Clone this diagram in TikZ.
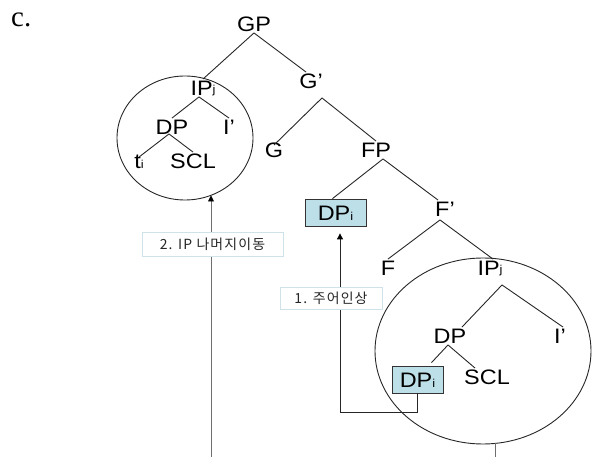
\documentclass[tikz,border=0pt]{standalone}
\usepackage{fontspec}
\setmainfont[FakeStretch=1.12]{Liberation Sans}
\newfontfamily\krfont[LetterSpace=8]{Noto Sans CJK KR}
\newfontfamily\seriffont{Liberation Serif}
\usetikzlibrary{arrows.meta}
\definecolor{boxblue}{HTML}{BCDFE8}
\definecolor{lblborder}{HTML}{CFE2EA}
\definecolor{arrgray}{HTML}{6E6E6E}
\newcommand\subx[2][0bp]{\raisebox{#1}{\fontsize{11.5}{12}\selectfont #2}}
\tikzset{
  lab/.style={inner sep=1bp, text height=15.5bp, text depth=0bp, font=\fontsize{21}{24}\selectfont},
  tline/.style={draw=black!85, line width=0.9bp},
  dpbox/.style={lab, draw=black!80, fill=boxblue, minimum height=27bp, line width=0.8bp},
  lbl/.style={draw=lblborder, fill=white, text=black!85, font=\krfont\fontsize{14}{15}\selectfont, line width=0.8bp, inner sep=0pt},
  mv/.style={line width=0.9bp, -{Triangle[length=6bp,width=6bp,color=black]}},
  circ/.style={draw=black!85, line width=0.9bp},
}
\begin{document}
\begin{tikzpicture}[x=1bp,y=-1bp]
\useasboundingbox (0,0) rectangle (592,457);
% label c.
\node[font=\seriffont\fontsize{29}{32}\selectfont, anchor=base west, inner sep=0pt] (c) at (11,27) {c.};
% tree nodes
\node[lab] (GP) at (254,24) {GP};
\node[lab] (IPL) at (203,88) {IP\subx[2bp]{j}};
\node[lab] (Gb) at (311,81) {G’};
\node[lab] (DPL) at (172,127) {DP};
\node[lab] (IbL) at (229,127) {I’};
\node[lab] (ti) at (139,161) {t\subx{i}};
\node[lab] (SCLL) at (193,161) {SCL};
\node[lab] (G) at (274,150) {G};
\node[lab] (FP) at (376,150) {FP};
\node[dpbox, minimum width=61bp] (box1) at (335.5,212.5) {DP\subx{i}};
\node[lab] (Fb) at (445,209) {F’};
\node[lab] (F) at (388,268) {F};
\node[lab] (IPR) at (490,268) {IP\subx[2bp]{j}};
\node[lab] (DPR) at (450,336) {DP};
\node[lab] (IbR) at (560,336) {I’};
\node[dpbox, minimum width=51bp, inner sep=0pt] (box2) at (417.5,379.5) {DP\subx{i}};
\node[lab] (SCLR) at (487,377) {SCL};
% tree lines
\draw[tline] (GP.south) -- (IPL.north);
\draw[tline] (GP.south) -- ([xshift=-5bp]Gb.north);
\draw[tline] ([xshift=-4bp]IPL.south) -- (DPL.north);
\draw[tline] ([xshift=-4bp]IPL.south) -- (IbL.north);
\draw[tline] ([xshift=-3bp,yshift=2bp]DPL.south) -- ([yshift=-5bp]ti.north);
\draw[tline] ([xshift=-3bp,yshift=2bp]DPL.south) -- (SCLL.north);
\draw[tline] ([xshift=11bp,yshift=-8bp]Gb.south) -- ([yshift=-4bp]G.north);
\draw[tline] ([xshift=11bp,yshift=-8bp]Gb.south) -- (FP.north);
\draw[tline] ([xshift=7bp]FP.south) -- ([xshift=-3bp]box1.north);
\draw[tline] ([xshift=7bp]FP.south) -- ([xshift=-7bp]Fb.north);
\draw[tline] ([xshift=-5bp,yshift=-2bp]Fb.south) -- (F.north);
\draw[tline] ([xshift=-5bp,yshift=-2bp]Fb.south) -- ([xshift=3bp]IPR.north);
\draw[tline] ([xshift=12bp,yshift=-8bp]IPR.south) -- ([xshift=12bp]DPR.north);
\draw[tline] ([xshift=12bp,yshift=-8bp]IPR.south) -- ([xshift=3bp]IbR.north);
\draw[tline] ([xshift=-2bp]DPR.south) -- ([xshift=14bp,yshift=3bp]box2.north);
\draw[tline] ([xshift=-2bp]DPR.south) -- ([xshift=-12bp]SCLR.north);
% circles
\draw[circ] (185,138) ellipse [x radius=68bp, y radius=62bp];
\draw[circ] (483,351) ellipse [x radius=108bp, y radius=93bp];
% movement 1
\coordinate (t1) at ([xshift=4.5bp,yshift=-7bp]box1.south);
\draw[mv, draw=black!85] (box2.south) -- ++(0,19) -| (t1);
\node[lbl, minimum width=102bp, minimum height=22bp] (l1) at (331,298) {1. 주어인상};
% movement 2
\coordinate (b2) at (211,457);
\coordinate (t2) at (211,195.5);
\draw[mv, draw=arrgray] (b2) -- (t2);
\node[lbl, minimum width=141bp, minimum height=24bp] (l2) at (212.5,244) {2. IP 나머지이동};
% line below right circle
\coordinate (rb) at (495,443.4);
\coordinate (rb2) at (495,457);
\draw[draw=arrgray, line width=0.9bp] (rb) -- (rb2);
\end{tikzpicture}
\end{document}
